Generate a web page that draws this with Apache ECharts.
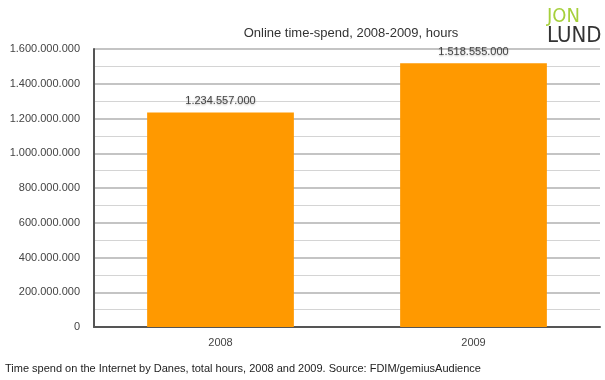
<!DOCTYPE html>
<html><head><meta charset="utf-8">
<script src="https://cdn.jsdelivr.net/npm/echarts@6/dist/echarts.min.js"></script>
<style>html,body{margin:0;padding:0;background:#fff}#c{width:605px;height:380px}</style>
</head><body><div id="c"></div>
<script>
const categories = ['2008', '2009'];
const hours = [1234557000, 1518555000];
const yTicks = [0, 200000000, 400000000, 600000000, 800000000, 1000000000, 1200000000, 1400000000, 1600000000];
const titleText = 'Online time-spend, 2008-2009, hours';
const caption = 'Time spend on the Internet by Danes, total hours, 2008 and 2009. Source: FDIM/gemiusAudience';

function fmt(v){ return String(Math.round(v)).replace(/\B(?=(\d{3})+(?!\d))/g, '.'); }
const font = '"Liberation Sans", Arial, sans-serif';
const chart = echarts.init(document.getElementById('c'));
chart.setOption({
  animation: false,
  textStyle: {fontFamily: font},
  title: {text: titleText, left: 346, textAlign: 'center', top: 22,
    textStyle: {fontSize: 13, fontWeight: 'normal', color: '#333', fontFamily: font}},
  grid: {left: 94, right: 5, top: 49, bottom: 53},
  xAxis: {type: 'category', data: categories,
    axisLine: {lineStyle: {color: '#555', width: 2}},
    axisTick: {show: false},
    axisLabel: {color: '#444', fontSize: 11, margin: 10}},
  yAxis: {type: 'value', min: yTicks[0], max: yTicks[yTicks.length-1], interval: 200000000,
    axisLine: {show: true, lineStyle: {color: '#555', width: 2}},
    axisTick: {show: false},
    axisLabel: {color: '#444', fontSize: 11, margin: 14, formatter: v => fmt(v)},
    splitLine: {lineStyle: {color: '#c4c4c4', width: 2}},
    minorTick: {show: false, splitNumber: 2},
    minorSplitLine: {show: true, lineStyle: {color: '#d4d4d4', width: 1}}},
  series: [{type: 'bar', data: hours, barWidth: '58%',
    itemStyle: {color: '#ff9900'},
    label: {show: true, position: 'top', distance: 6, color: '#444', fontSize: 11,
      formatter: p => fmt(p.value),
      textShadowColor: 'rgba(0,0,0,0.3)', textShadowBlur: 2, textShadowOffsetY: 1}}],
  graphic: [
    {type: 'text', left: 547, top: 7, style: {text: 'JON', fill: '#a6d03c', font: '20px "Liberation Sans Narrow", "DejaVu Sans Condensed", sans-serif'}},
    {type: 'text', left: 547, top: 25, style: {text: 'LUND', fill: '#333', font: '22px "Liberation Sans Narrow", "DejaVu Sans Condensed", sans-serif'}},
    {type: 'text', left: 5, top: 363, style: {text: caption, fill: '#222', font: '11px ' + font}}
  ]
});
</script></body></html>
